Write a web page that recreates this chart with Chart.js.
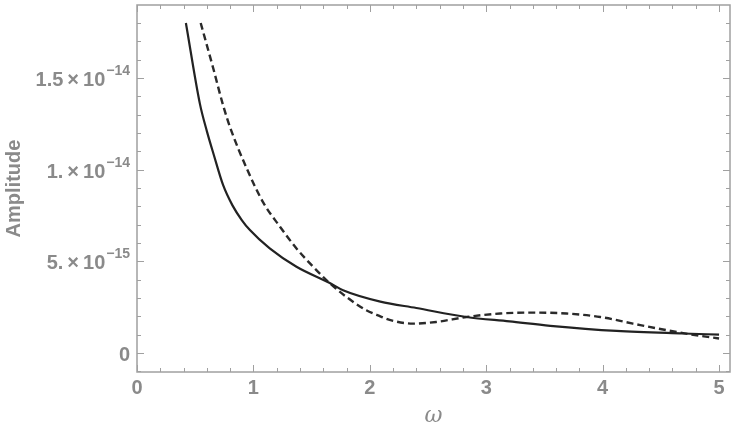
<!DOCTYPE html>
<html lang="en">
<head>
    <meta charset="UTF-8">
    <title>Amplitude vs omega</title>
    <script src="https://cdn.jsdelivr.net/npm/chart.js"></script>
    <style>
        html, body { margin: 0; padding: 0; background: #fff; }
        #wrap { width: 738px; height: 423px; }
    </style>
</head>
<body>
    <div id="wrap"><canvas id="ampChart"></canvas></div>

    <script>
        // amplitudes are in units of 1e-15
        const solidOmega = [0.42, 0.54, 0.60, 0.66, 0.74, 0.82, 0.90, 0.97, 1.14, 1.37, 1.66, 1.77, 2.09, 2.40, 2.83, 3.20, 3.55, 4.12, 4.69, 5.00];
        const solidAmp   = [18.0, 13.6, 12.1, 10.8, 9.15, 8.05, 7.25, 6.7, 5.7, 4.7, 3.8, 3.42, 2.8, 2.45, 1.96, 1.72, 1.48, 1.2, 1.06, 1.0];

        const dashOmega = [0.547, 0.656, 0.74, 0.80, 0.94, 1.085, 1.23, 1.37, 1.515, 1.66, 1.80, 1.97, 2.09, 2.17, 2.37, 2.57, 2.83, 3.12, 3.40, 3.69, 3.98, 4.26, 4.55, 4.84, 5.00];
        const dashAmp   = [18.0, 15.5, 13.5, 12.3, 10.1, 8.2, 6.87, 5.7, 4.69, 3.78, 3.05, 2.33, 2.0, 1.8, 1.6, 1.69, 1.96, 2.15, 2.2, 2.15, 1.96, 1.6, 1.24, 0.93, 0.79];

        const xTicks = [0, 1, 2, 3, 4, 5];
        const yTicks = [0, 5, 10, 15];
        const yTickBase = ['0', '5.', '1.', '1.5'];
        const yTickExp  = ['', '\u221215', '\u221214', '\u221214'];

        const grey = '#8a8a8a';
        const frameGrey = '#a0a0a0';
        const labelFont = 'bold 20px "Liberation Sans"';
        const expFont = 'bold 14px "Liberation Sans"';

        function toPoints(xs, ys) {
            return xs.map((x, i) => ({ x: x, y: ys[i] }));
        }

        // Mathematica style frame with inward ticks on all four sides
        const framePlugin = {
            id: 'frame',
            afterDraw(chart) {
                const ctx = chart.ctx;
                const a = chart.chartArea;
                const xs = chart.scales.x;
                const ys = chart.scales.y;
                ctx.save();
                ctx.strokeStyle = frameGrey;
                ctx.lineWidth = 1.5;
                ctx.strokeRect(a.left, a.top, a.right - a.left, a.bottom - a.top);
                ctx.lineWidth = 1;
                for (let v = 0; v <= 5.0001; v += 0.2) {
                    const major = Math.abs(v - Math.round(v)) < 1e-6;
                    const len = major ? 7 : 4;
                    const px = Math.round(xs.getPixelForValue(v)) + 0.5;
                    ctx.beginPath();
                    ctx.moveTo(px, a.bottom); ctx.lineTo(px, a.bottom - len);
                    ctx.moveTo(px, a.top); ctx.lineTo(px, a.top + len);
                    ctx.stroke();
                }
                for (let v = -1; v <= 18; v += 1) {
                    const major = v % 5 === 0;
                    const len = major ? 7 : 4;
                    const py = Math.round(ys.getPixelForValue(v)) + 0.5;
                    ctx.beginPath();
                    ctx.moveTo(a.left, py); ctx.lineTo(a.left + len, py);
                    ctx.moveTo(a.right, py); ctx.lineTo(a.right - len, py);
                    ctx.stroke();
                }

                // y tick labels with real superscript exponents
                ctx.fillStyle = grey;
                ctx.textBaseline = 'alphabetic';
                ctx.textAlign = 'left';
                const right = a.left - 7;
                yTicks.forEach((v, i) => {
                    const py = ys.getPixelForValue(v);
                    const main = yTickExp[i] ? yTickBase[i] + '\u2009×\u200910' : yTickBase[i];
                    ctx.font = labelFont;
                    const wm = ctx.measureText(main).width;
                    ctx.font = expFont;
                    const we = yTickExp[i] ? ctx.measureText(yTickExp[i]).width + 1 : 0;
                    const x0 = right - wm - we;
                    const base = py + 8;
                    ctx.font = labelFont;
                    ctx.fillText(main, x0, base);
                    if (yTickExp[i]) {
                        ctx.font = expFont;
                        ctx.fillText(yTickExp[i], x0 + wm + 1, base - 11);
                    }
                });
                ctx.restore();
            }
        };

        const ctx = document.getElementById('ampChart').getContext('2d');
        new Chart(ctx, {
            type: 'line',
            data: {
                datasets: [
                    {
                        data: toPoints(solidOmega, solidAmp),
                        borderColor: '#222',
                        borderWidth: 2.2,
                        pointRadius: 0,
                        cubicInterpolationMode: 'monotone',
                        fill: false
                    },
                    {
                        data: toPoints(dashOmega, dashAmp),
                        borderColor: '#2a2a2a',
                        borderWidth: 2.4,
                        borderDash: [7, 4],
                        pointRadius: 0,
                        cubicInterpolationMode: 'monotone',
                        fill: false
                    }
                ]
            },
            options: {
                responsive: true,
                maintainAspectRatio: false,
                animation: false,
                layout: { padding: { left: 0, right: 8, top: 5, bottom: 0 } },
                plugins: {
                    legend: { display: false },
                    tooltip: { enabled: false }
                },
                scales: {
                    x: {
                        type: 'linear',
                        min: 0,
                        max: 5.094,
                        afterBuildTicks: s => { s.ticks = xTicks.map(v => ({ value: v })); },
                        afterFit: s => { s.height = 51; },
                        grid: { display: false, drawTicks: false },
                        border: { display: false },
                        ticks: {
                            color: grey,
                            padding: 4,
                            maxRotation: 0,
                            font: { family: 'Liberation Sans', size: 20, weight: 'bold' }
                        },
                        title: {
                            display: true,
                            text: 'ω',
                            color: grey,
                            padding: { top: 0, bottom: -6 },
                            font: { family: 'DejaVu Serif', size: 22, style: 'italic' }
                        }
                    },
                    y: {
                        type: 'linear',
                        min: -1.04,
                        max: 18.98,
                        afterBuildTicks: s => { s.ticks = yTicks.map(v => ({ value: v })); },
                        afterFit: s => { s.width = 137; },
                        grid: { display: false, drawTicks: false },
                        border: { display: false },
                        ticks: { display: false },
                        title: {
                            display: true,
                            text: 'Amplitude',
                            color: grey,
                            padding: { top: 2, bottom: 0 },
                            font: { family: 'Liberation Sans', size: 20, weight: 'bold' }
                        }
                    }
                }
            },
            plugins: [framePlugin]
        });
    </script>
</body>
</html>
